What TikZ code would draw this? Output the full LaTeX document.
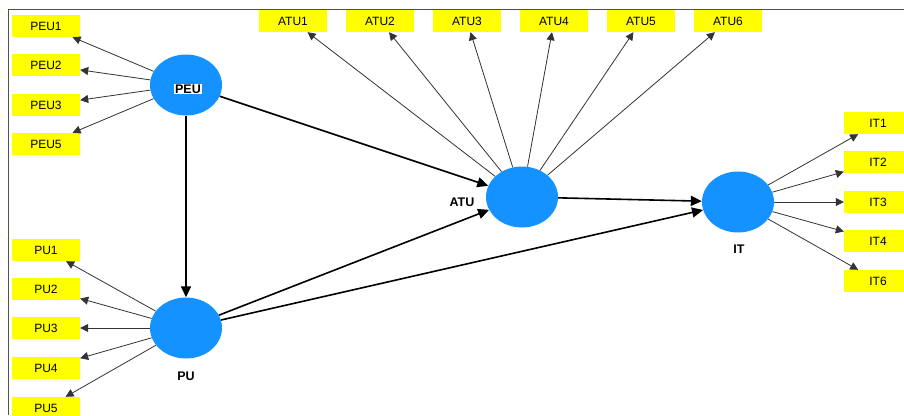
\documentclass[tikz,border=0pt]{standalone}
\usepackage{fontspec}
\setmainfont{Liberation Sans}
\usetikzlibrary{shapes.geometric,arrows.meta}
\definecolor{latblue}{RGB}{20,146,255}
\definecolor{indyellow}{RGB}{255,255,0}
\definecolor{framegray}{RGB}{80,80,80}
\tikzset{
  latent/.style={ellipse,fill=latblue,draw=none,minimum width=72pt,minimum height=61pt,inner sep=0pt},
  indbox/.style={rectangle,fill=indyellow,draw=none,minimum width=68pt,minimum height=22pt,inner sep=0pt,font=\fontsize{12}{14}\selectfont},
  latlabel/.style={font=\fontsize{12.5}{14}\selectfont\bfseries,inner sep=1pt},
  loadarrow/.style={draw=black!80,line width=0.8pt,-{Triangle[length=8pt,width=8pt]}},
  patharrow/.style={draw=black,line width=1.6pt,-{Triangle[length=11pt,width=10pt]}}
}
\begin{document}
\begin{tikzpicture}[x=1pt,y=-1pt]
\useasboundingbox (0,0) rectangle (904,415);
\fill[white] (0,0) rectangle (904,415);
\clip (0,0) rectangle (904,415);
\draw[framegray,line width=1pt] (8,415) -- (8,9) -- (904,9);
% latent variables
\node[latent] (PEU) at (186,85) {};
\node[latent] (PU) at (186,328) {};
\node[latent] (ATU) at (522,197) {};
\node[latent] (IT) at (738,202) {};
\node[latlabel,fill=white] (PEUl) at (188,89) {PEU};
\node[latlabel] (PUl) at (186,376) {PU};
\node[latlabel] (ATUl) at (462,202) {ATU};
\node[latlabel] (ITl) at (739,249) {IT};
% PEU indicators
\node[indbox] (PEU1) at (46,26) {PEU1};
\node[indbox] (PEU2) at (46,65) {PEU2};
\node[indbox] (PEU3) at (46,105) {PEU3};
\node[indbox] (PEU5) at (46,144) {PEU5};
% PU indicators
\node[indbox] (PU1) at (46,250) {PU1};
\node[indbox] (PU2) at (46,289) {PU2};
\node[indbox] (PU3) at (46,328) {PU3};
\node[indbox] (PU4) at (46,368) {PU4};
\node[indbox] (PU5) at (46,408) {PU5};
% ATU indicators
\node[indbox] (ATU1) at (293,21) {ATU1};
\node[indbox] (ATU2) at (380,21) {ATU2};
\node[indbox] (ATU3) at (467,21) {ATU3};
\node[indbox] (ATU4) at (554,21) {ATU4};
\node[indbox] (ATU5) at (641,21) {ATU5};
\node[indbox] (ATU6) at (728,21) {ATU6};
% IT indicators
\node[indbox] (IT1) at (878,123) {IT1};
\node[indbox] (IT2) at (878,162) {IT2};
\node[indbox] (IT3) at (878,202) {IT3};
\node[indbox] (IT4) at (878,241) {IT4};
\node[indbox] (IT6) at (878,281) {IT6};
% loadings
\foreach \i in {PEU1,PEU2,PEU3,PEU5} \draw[loadarrow] (PEU) -- (\i);
\foreach \i in {PU1,PU2,PU3,PU4,PU5} \draw[loadarrow] (PU) -- (\i);
\foreach \i in {ATU1,ATU2,ATU3,ATU4,ATU5,ATU6} \draw[loadarrow] (ATU) -- (\i);
\foreach \i in {IT1,IT2,IT3,IT4,IT6} \draw[loadarrow] (IT) -- (\i);
% structural paths
\draw[patharrow] (PEU) -- (PU);
\draw[patharrow] (PEU) -- (ATU);
\draw[patharrow] (PU) -- (ATU);
\draw[patharrow] (PU) -- (IT);
\draw[patharrow] (ATU) -- (IT);
\end{tikzpicture}
\end{document}
